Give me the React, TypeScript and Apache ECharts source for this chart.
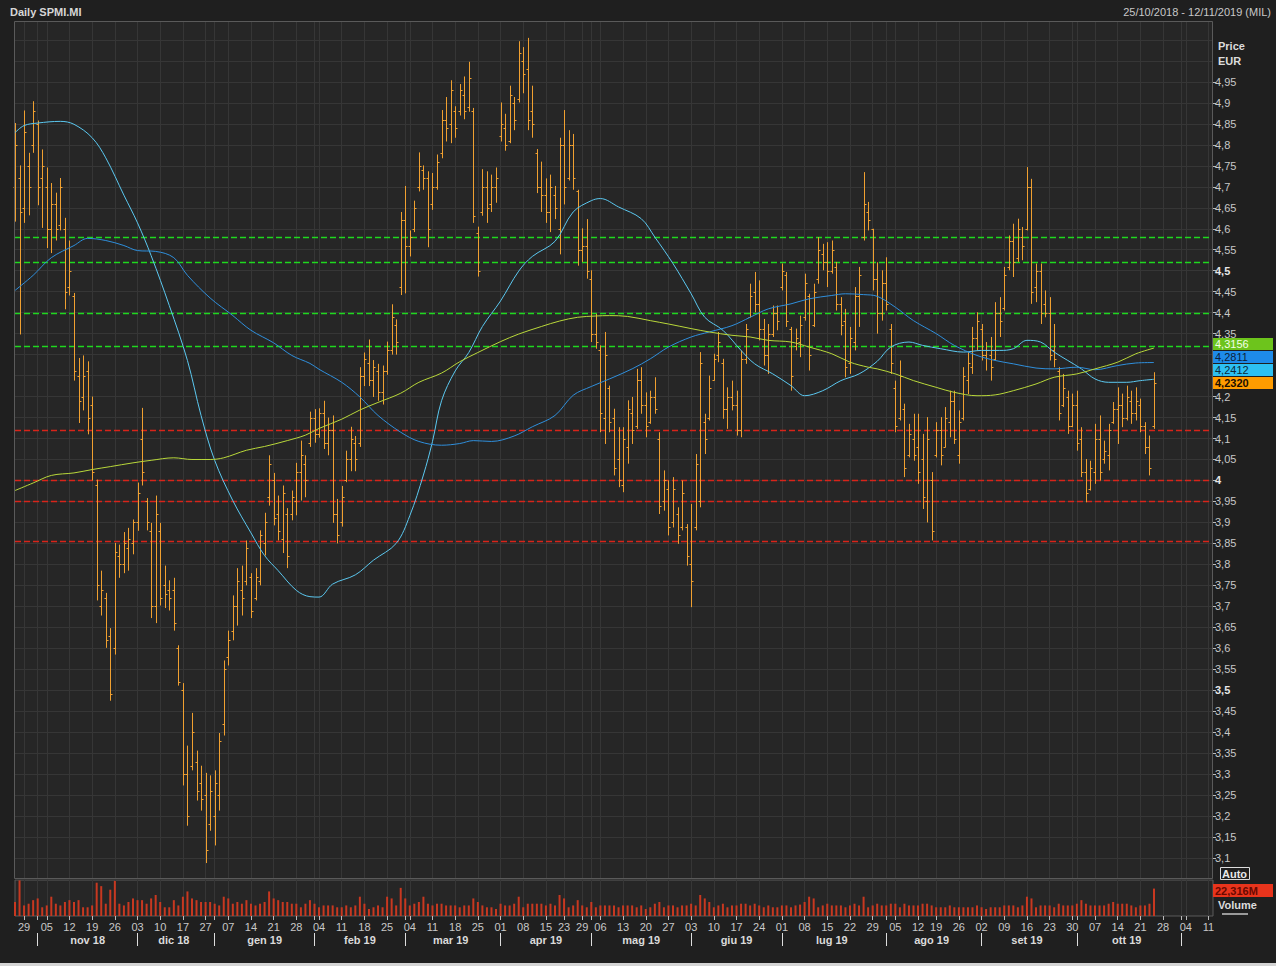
import React, { useEffect, useRef } from "react";
import * as echarts from "echarts";

// ---------- calendar (Borsa Italiana trading days) ----------
const FIRST_DAY = "2018-10-25";
const LAST_DAY = "2019-11-12";
const HOLIDAYS = ["2018-12-24", "2018-12-25", "2018-12-26", "2018-12-31", "2019-01-01", "2019-04-19", "2019-04-22", "2019-05-01", "2019-08-15"];
const MONTHS_IT = ["gen", "feb", "mar", "apr", "mag", "giu", "lug", "ago", "set", "ott", "nov", "dic"];

const TITLE = "Daily SPMI.MI";
const RANGE_TEXT = "25/10/2018 - 12/11/2019 (MIL)";

// ---------- daily OHLC (from 2018-10-25, one value per trading day) ----------
const open = [
  4.70, 4.72, 4.65, 4.75, 4.80, 4.85, 4.72, 4.70, 4.60, 4.66,
  4.61, 4.60, 4.46, 4.44, 4.25, 4.20, 4.26, 4.18, 3.99, 3.70,
  3.72, 3.63, 3.60, 3.82, 3.80, 3.84, 3.85, 3.90, 4.10, 3.95,
  3.88, 3.70, 3.88, 3.75, 3.74, 3.74, 3.60, 3.50, 3.30, 3.32,
  3.33, 3.28, 3.25, 3.18, 3.20, 3.25, 3.42, 3.58, 3.64, 3.70,
  3.74, 3.76, 3.77, 3.72, 3.76, 3.85, 3.96, 4.00, 3.92, 3.86,
  3.92, 3.92, 3.95, 4.02, 4.04, 4.09, 4.15, 4.11, 4.16, 4.09,
  4.12, 3.92, 3.90, 4.00, 4.05, 4.09, 4.09, 4.25, 4.28, 4.24,
  4.26, 4.21, 4.26, 4.31, 4.37, 4.46, 4.62, 4.56, 4.60, 4.70,
  4.74, 4.72, 4.66, 4.70, 4.78, 4.86, 4.85, 4.88, 4.88, 4.92,
  4.89, 4.88, 4.59, 4.64, 4.70, 4.66, 4.70, 4.82, 4.84, 4.81,
  4.90, 4.91, 5.00, 4.98, 4.88, 4.78, 4.70, 4.68, 4.64, 4.68,
  4.60, 4.80, 4.72, 4.80, 4.69, 4.55, 4.56, 4.48, 4.35, 4.31,
  4.15, 4.22, 4.15, 4.05, 3.99, 4.08, 4.16, 4.13, 4.24, 4.18,
  4.14, 4.20, 4.10, 3.95, 3.98, 3.90, 3.92, 3.89, 3.89, 3.80,
  3.89, 3.95, 4.14, 4.15, 4.24, 4.30, 4.28, 4.17, 4.20, 4.18,
  4.12, 4.29, 4.39, 4.45, 4.42, 4.36, 4.30, 4.35, 4.40, 4.46,
  4.49, 4.36, 4.32, 4.33, 4.39, 4.44, 4.37, 4.48, 4.54, 4.52,
  4.50, 4.51, 4.42, 4.38, 4.28, 4.33, 4.44, 4.58, 4.64, 4.60,
  4.48, 4.40, 4.47, 4.36, 4.22, 4.15, 4.17, 4.06, 4.10, 4.08,
  4.05, 3.95, 4.00, 4.06, 4.12, 4.08, 4.14, 4.19, 4.06, 4.15,
  4.24, 4.27, 4.34, 4.36, 4.30, 4.30, 4.29, 4.40, 4.41, 4.51,
  4.57, 4.53, 4.58, 4.60, 4.70, 4.46, 4.50, 4.42, 4.40, 4.31,
  4.26, 4.18, 4.20, 4.13, 4.18, 4.10, 4.02, 3.98, 4.02, 4.10,
  4.05, 4.06, 4.14, 4.17, 4.18, 4.15, 4.19, 4.16, 4.18, 4.13,
  4.08, 4.13,
];
const high = [
  4.852, 4.751, 4.882, 4.781, 4.904, 4.858, 4.789, 4.746, 4.709, 4.686,
  4.721, 4.626, 4.572, 4.447, 4.292, 4.298, 4.284, 4.200, 4.002, 3.785,
  3.732, 3.648, 3.851, 3.847, 3.877, 3.887, 3.907, 3.995, 4.173, 3.958,
  3.899, 3.964, 3.899, 3.797, 3.762, 3.768, 3.607, 3.517, 3.368, 3.446,
  3.356, 3.320, 3.303, 3.297, 3.309, 3.398, 3.571, 3.642, 3.726, 3.791,
  3.797, 3.857, 3.779, 3.791, 3.881, 3.923, 4.060, 4.018, 3.964, 3.988,
  3.934, 3.976, 4.042, 4.095, 4.060, 4.164, 4.170, 4.172, 4.190, 4.150,
  4.155, 3.956, 3.987, 4.071, 4.128, 4.106, 4.270, 4.305, 4.336, 4.287,
  4.278, 4.274, 4.331, 4.420, 4.384, 4.640, 4.702, 4.596, 4.667, 4.782,
  4.751, 4.737, 4.733, 4.777, 4.883, 4.914, 4.954, 4.892, 4.945, 4.963,
  4.998, 4.888, 4.605, 4.742, 4.737, 4.729, 4.746, 4.901, 4.874, 4.941,
  4.914, 5.047, 5.033, 5.055, 4.941, 4.790, 4.760, 4.720, 4.729, 4.702,
  4.817, 4.883, 4.835, 4.826, 4.693, 4.601, 4.623, 4.501, 4.397, 4.322,
  4.354, 4.226, 4.171, 4.127, 4.127, 4.191, 4.199, 4.266, 4.270, 4.210,
  4.214, 4.246, 4.115, 4.024, 4.000, 4.008, 3.936, 4.000, 3.896, 3.944,
  4.063, 4.306, 4.159, 4.250, 4.302, 4.354, 4.290, 4.222, 4.238, 4.214,
  4.310, 4.373, 4.469, 4.497, 4.477, 4.385, 4.373, 4.417, 4.417, 4.517,
  4.497, 4.366, 4.362, 4.393, 4.493, 4.445, 4.469, 4.580, 4.564, 4.568,
  4.572, 4.521, 4.437, 4.409, 4.366, 4.461, 4.509, 4.735, 4.664, 4.600,
  4.520, 4.501, 4.532, 4.373, 4.238, 4.286, 4.183, 4.135, 4.159, 4.159,
  4.111, 4.151, 4.020, 4.139, 4.151, 4.175, 4.214, 4.214, 4.167, 4.270,
  4.306, 4.366, 4.401, 4.373, 4.330, 4.342, 4.425, 4.437, 4.509, 4.584,
  4.612, 4.624, 4.604, 4.747, 4.719, 4.517, 4.517, 4.453, 4.437, 4.373,
  4.270, 4.254, 4.214, 4.207, 4.214, 4.127, 4.051, 4.047, 4.135, 4.155,
  4.095, 4.135, 4.187, 4.222, 4.207, 4.226, 4.214, 4.222, 4.195, 4.139,
  4.107, 4.258,
];
const low = [
  4.617, 4.348, 4.614, 4.632, 4.781, 4.656, 4.602, 4.554, 4.542, 4.572,
  4.596, 4.408, 4.441, 4.238, 4.137, 4.167, 4.110, 4.000, 3.714, 3.678,
  3.601, 3.475, 3.585, 3.768, 3.779, 3.785, 3.824, 3.880, 3.988, 3.881,
  3.672, 3.660, 3.702, 3.696, 3.690, 3.642, 3.511, 3.273, 3.177, 3.309,
  3.237, 3.213, 3.088, 3.165, 3.130, 3.213, 3.392, 3.559, 3.619, 3.654,
  3.678, 3.750, 3.672, 3.714, 3.750, 3.821, 3.940, 3.893, 3.857, 3.827,
  3.791, 3.905, 3.917, 3.952, 3.960, 4.080, 4.090, 4.102, 4.075, 4.060,
  3.899, 3.850, 3.890, 3.996, 4.022, 4.022, 4.080, 4.225, 4.225, 4.199,
  4.190, 4.181, 4.252, 4.300, 4.300, 4.442, 4.446, 4.534, 4.592, 4.689,
  4.693, 4.556, 4.645, 4.693, 4.768, 4.808, 4.804, 4.817, 4.870, 4.861,
  4.879, 4.614, 4.486, 4.631, 4.614, 4.640, 4.662, 4.808, 4.786, 4.804,
  4.835, 4.901, 4.923, 4.835, 4.817, 4.685, 4.640, 4.614, 4.592, 4.623,
  4.539, 4.658, 4.715, 4.693, 4.512, 4.521, 4.481, 4.330, 4.314, 4.115,
  4.087, 4.115, 4.012, 3.984, 3.972, 4.040, 4.087, 4.123, 4.159, 4.103,
  4.135, 4.159, 3.920, 3.928, 3.869, 3.888, 3.849, 3.881, 3.797, 3.698,
  3.881, 3.936, 4.063, 4.143, 4.238, 4.282, 4.147, 4.123, 4.167, 4.107,
  4.103, 4.278, 4.389, 4.401, 4.334, 4.274, 4.254, 4.342, 4.358, 4.453,
  4.366, 4.214, 4.310, 4.294, 4.381, 4.262, 4.366, 4.469, 4.501, 4.461,
  4.493, 4.405, 4.346, 4.246, 4.254, 4.310, 4.366, 4.572, 4.596, 4.453,
  4.350, 4.381, 4.405, 4.254, 4.115, 4.143, 4.008, 4.055, 4.047, 3.992,
  3.932, 3.900, 3.857, 4.055, 4.036, 4.079, 4.103, 4.087, 4.040, 4.143,
  4.206, 4.254, 4.310, 4.286, 4.262, 4.238, 4.286, 4.342, 4.405, 4.501,
  4.485, 4.521, 4.525, 4.596, 4.421, 4.425, 4.373, 4.389, 4.286, 4.270,
  4.143, 4.175, 4.111, 4.127, 4.071, 4.008, 3.948, 3.976, 3.992, 4.000,
  4.040, 4.024, 4.135, 4.087, 4.127, 4.143, 4.135, 4.143, 4.115, 4.063,
  4.012, 4.123,
];
const close = [
  4.80, 4.64, 4.83, 4.70, 4.88, 4.70, 4.75, 4.60, 4.66, 4.60,
  4.70, 4.45, 4.50, 4.26, 4.19, 4.25, 4.15, 4.02, 3.75, 3.74,
  3.62, 3.49, 3.83, 3.80, 3.85, 3.86, 3.90, 3.97, 4.02, 3.90,
  3.70, 3.92, 3.72, 3.73, 3.72, 3.66, 3.52, 3.30, 3.20, 3.40,
  3.26, 3.24, 3.12, 3.26, 3.28, 3.38, 3.55, 3.62, 3.70, 3.76,
  3.72, 3.84, 3.69, 3.77, 3.87, 3.90, 4.04, 3.91, 3.88, 3.97,
  3.82, 3.96, 4.02, 4.06, 4.00, 4.15, 4.11, 4.16, 4.09, 4.12,
  3.92, 3.87, 3.96, 4.05, 4.10, 4.05, 4.25, 4.29, 4.24, 4.27,
  4.21, 4.26, 4.31, 4.39, 4.33, 4.62, 4.56, 4.58, 4.65, 4.75,
  4.72, 4.60, 4.70, 4.76, 4.86, 4.84, 4.93, 4.84, 4.93, 4.88,
  4.96, 4.63, 4.50, 4.70, 4.65, 4.70, 4.72, 4.85, 4.80, 4.92,
  4.86, 5.02, 4.97, 4.86, 4.85, 4.70, 4.68, 4.64, 4.70, 4.65,
  4.80, 4.70, 4.80, 4.72, 4.55, 4.56, 4.50, 4.35, 4.33, 4.16,
  4.30, 4.14, 4.03, 4.00, 4.10, 4.17, 4.12, 4.24, 4.18, 4.13,
  4.20, 4.17, 3.94, 4.00, 3.89, 3.98, 3.87, 3.97, 3.82, 3.76,
  4.04, 4.28, 4.10, 4.22, 4.29, 4.33, 4.17, 4.20, 4.18, 4.12,
  4.29, 4.36, 4.44, 4.42, 4.36, 4.30, 4.35, 4.40, 4.38, 4.50,
  4.38, 4.25, 4.34, 4.37, 4.47, 4.30, 4.45, 4.55, 4.52, 4.50,
  4.55, 4.42, 4.37, 4.27, 4.34, 4.44, 4.49, 4.66, 4.62, 4.48,
  4.40, 4.47, 4.42, 4.28, 4.13, 4.25, 4.03, 4.11, 4.06, 4.02,
  3.96, 4.10, 3.88, 4.12, 4.06, 4.15, 4.19, 4.10, 4.14, 4.25,
  4.28, 4.34, 4.38, 4.30, 4.31, 4.27, 4.40, 4.38, 4.49, 4.57,
  4.52, 4.60, 4.56, 4.70, 4.45, 4.50, 4.40, 4.40, 4.30, 4.29,
  4.16, 4.22, 4.13, 4.18, 4.09, 4.02, 3.97, 4.03, 4.10, 4.02,
  4.07, 4.12, 4.17, 4.18, 4.15, 4.20, 4.16, 4.19, 4.13, 4.08,
  4.03, 4.232,
];
// volume, millions of shares
const volume = [
  11.4, 29.0, 8.6, 10.0, 12.9, 14.3, 7.1, 8.6, 15.7, 10.0,
  8.6, 11.4, 12.9, 11.4, 12.9, 7.1, 7.1, 8.6, 27.1, 24.3,
  10.0, 21.4, 28.6, 10.0, 8.6, 11.4, 14.3, 12.9, 12.9, 10.0,
  14.3, 17.1, 11.4, 7.1, 7.1, 12.9, 8.6, 15.7, 20.0, 14.3,
  12.9, 11.4, 11.4, 11.4, 10.0, 8.6, 15.7, 14.3, 10.0, 11.4,
  10.0, 12.9, 10.0, 8.6, 10.0, 11.4, 20.0, 14.3, 12.9, 11.4,
  11.4, 10.0, 10.0, 7.1, 10.0, 12.9, 10.0, 7.1, 8.6, 8.6,
  8.6, 7.1, 7.1, 8.6, 7.1, 8.6, 15.7, 10.0, 5.7, 7.1,
  8.6, 7.1, 15.7, 14.3, 8.6, 22.9, 14.3, 8.6, 10.0, 11.4,
  15.7, 10.0, 8.6, 10.0, 10.0, 8.6, 8.6, 8.6, 7.1, 8.6,
  8.6, 14.3, 11.4, 8.6, 7.1, 7.1, 5.7, 10.0, 8.6, 8.6,
  10.0, 15.7, 7.1, 10.0, 10.0, 10.0, 10.0, 8.6, 10.0, 8.6,
  17.1, 14.3, 7.1, 8.6, 12.9, 8.6, 7.1, 11.4, 7.1, 8.6,
  8.6, 8.6, 8.6, 7.1, 8.6, 8.6, 8.6, 7.1, 8.6, 5.7,
  7.1, 10.0, 11.4, 7.1, 8.6, 8.6, 7.1, 8.6, 8.6, 10.0,
  8.6, 17.1, 14.3, 11.4, 7.1, 8.6, 10.0, 7.1, 8.6, 8.6,
  10.0, 10.0, 8.6, 10.0, 8.6, 7.1, 8.6, 7.1, 7.1, 8.6,
  8.6, 7.1, 8.6, 9.3, 11.4, 15.7, 14.3, 7.1, 8.6, 10.0,
  8.6, 8.6, 8.6, 7.1, 8.6, 10.0, 8.6, 15.7, 7.1, 8.6,
  10.0, 8.6, 8.6, 10.0, 10.0, 7.1, 10.0, 8.6, 8.6, 8.6,
  10.0, 10.0, 8.6, 7.1, 7.1, 7.1, 8.6, 7.1, 7.1, 7.1,
  7.1, 7.1, 8.6, 7.1, 5.7, 7.1, 7.1, 7.1, 8.6, 8.6,
  8.6, 7.1, 8.6, 15.7, 14.3, 7.1, 8.6, 8.6, 8.6, 7.1,
  10.0, 8.6, 8.6, 8.6, 10.0, 12.9, 10.0, 8.6, 8.6, 8.6,
  8.6, 10.0, 11.4, 10.0, 10.0, 10.0, 8.6, 7.1, 8.6, 8.6,
  10.0, 22.316,
];

// ---------- moving averages, read at sample dates ----------
const maFast: [string, number][] = [
  ["2018-10-25", 4.829], ["2018-10-29", 4.846], ["2018-11-01", 4.852], ["2018-11-08", 4.856], ["2018-11-13", 4.849],
  ["2018-11-19", 4.817], ["2018-11-22", 4.769], ["2018-11-28", 4.680], ["2018-12-03", 4.614], ["2018-12-06", 4.536],
  ["2018-12-12", 4.417], ["2018-12-18", 4.286], ["2018-12-21", 4.155], ["2019-01-02", 4.048], ["2019-01-08", 3.952],
  ["2019-01-14", 3.875], ["2019-01-17", 3.821], ["2019-01-22", 3.785], ["2019-01-28", 3.738], ["2019-01-31", 3.723],
  ["2019-02-04", 3.722], ["2019-02-07", 3.753], ["2019-02-14", 3.775], ["2019-02-20", 3.810], ["2019-02-27", 3.850],
  ["2019-03-04", 3.916], ["2019-03-07", 4.013], ["2019-03-11", 4.093], ["2019-03-13", 4.190], ["2019-03-18", 4.261],
  ["2019-03-21", 4.305], ["2019-03-26", 4.367], ["2019-04-01", 4.428], ["2019-04-05", 4.499], ["2019-04-10", 4.534],
  ["2019-04-17", 4.570], ["2019-04-25", 4.640], ["2019-05-02", 4.667], ["2019-05-06", 4.672], ["2019-05-10", 4.652],
  ["2019-05-17", 4.624], ["2019-05-22", 4.580], ["2019-05-28", 4.517], ["2019-06-03", 4.445], ["2019-06-06", 4.389],
  ["2019-06-12", 4.358], ["2019-06-18", 4.310], ["2019-06-21", 4.278], ["2019-06-27", 4.254], ["2019-07-03", 4.226],
  ["2019-07-08", 4.202], ["2019-07-12", 4.214], ["2019-07-18", 4.238], ["2019-07-24", 4.254], ["2019-07-30", 4.284],
  ["2019-08-02", 4.318], ["2019-08-08", 4.330], ["2019-08-13", 4.322], ["2019-08-20", 4.314], ["2019-08-27", 4.306],
  ["2019-09-02", 4.310], ["2019-09-06", 4.310], ["2019-09-11", 4.314], ["2019-09-16", 4.334], ["2019-09-19", 4.330],
  ["2019-09-24", 4.306], ["2019-09-27", 4.286], ["2019-10-02", 4.266], ["2019-10-07", 4.242], ["2019-10-10", 4.234],
  ["2019-10-16", 4.234], ["2019-10-21", 4.238], ["2019-10-24", 4.2412],
];
const maMid: [string, number][] = [
  ["2018-10-25", 4.453], ["2018-10-31", 4.489], ["2018-11-06", 4.531], ["2018-11-13", 4.560], ["2018-11-16", 4.577],
  ["2018-11-22", 4.572], ["2018-11-28", 4.560], ["2018-12-03", 4.548], ["2018-12-07", 4.546], ["2018-12-13", 4.531],
  ["2018-12-18", 4.489], ["2018-12-28", 4.435], ["2019-01-08", 4.393], ["2019-01-14", 4.358], ["2019-01-21", 4.328],
  ["2019-01-25", 4.298], ["2019-01-31", 4.279], ["2019-02-04", 4.265], ["2019-02-11", 4.234], ["2019-02-15", 4.199],
  ["2019-02-21", 4.155], ["2019-02-28", 4.115], ["2019-03-06", 4.093], ["2019-03-13", 4.084], ["2019-03-19", 4.088],
  ["2019-03-22", 4.095], ["2019-03-28", 4.093], ["2019-04-04", 4.106], ["2019-04-10", 4.128], ["2019-04-17", 4.155],
  ["2019-04-25", 4.203], ["2019-05-02", 4.224], ["2019-05-08", 4.242], ["2019-05-15", 4.266], ["2019-05-21", 4.290],
  ["2019-05-27", 4.318], ["2019-06-03", 4.342], ["2019-06-07", 4.354], ["2019-06-14", 4.369], ["2019-06-20", 4.389],
  ["2019-06-26", 4.409], ["2019-07-03", 4.421], ["2019-07-09", 4.433], ["2019-07-16", 4.441], ["2019-07-19", 4.445],
  ["2019-07-25", 4.443], ["2019-07-30", 4.439], ["2019-08-05", 4.413], ["2019-08-09", 4.381], ["2019-08-19", 4.350],
  ["2019-08-23", 4.322], ["2019-08-30", 4.298], ["2019-09-05", 4.286], ["2019-09-11", 4.278], ["2019-09-18", 4.268],
  ["2019-09-24", 4.266], ["2019-10-01", 4.270], ["2019-10-07", 4.264], ["2019-10-14", 4.274], ["2019-10-18", 4.280],
  ["2019-10-24", 4.2811],
];
const maSlow: [string, number][] = [
  ["2018-10-25", 3.976], ["2018-10-31", 3.994], ["2018-11-06", 4.012], ["2018-11-13", 4.018], ["2018-11-19", 4.026],
  ["2018-11-23", 4.033], ["2018-11-30", 4.042], ["2018-12-06", 4.048], ["2018-12-13", 4.054], ["2018-12-19", 4.050],
  ["2018-12-28", 4.050], ["2019-01-04", 4.054], ["2019-01-11", 4.072], ["2019-01-17", 4.081], ["2019-01-24", 4.095],
  ["2019-01-30", 4.108], ["2019-02-04", 4.124], ["2019-02-11", 4.146], ["2019-02-15", 4.168], ["2019-02-21", 4.186],
  ["2019-02-28", 4.208], ["2019-03-06", 4.234], ["2019-03-13", 4.256], ["2019-03-19", 4.283], ["2019-03-25", 4.305],
  ["2019-04-01", 4.331], ["2019-04-05", 4.349], ["2019-04-12", 4.367], ["2019-04-18", 4.380], ["2019-04-26", 4.389],
  ["2019-05-03", 4.392], ["2019-05-08", 4.393], ["2019-05-14", 4.391], ["2019-05-21", 4.381], ["2019-05-27", 4.373],
  ["2019-06-03", 4.362], ["2019-06-07", 4.354], ["2019-06-14", 4.346], ["2019-06-20", 4.342], ["2019-06-26", 4.334],
  ["2019-07-03", 4.330], ["2019-07-09", 4.318], ["2019-07-16", 4.302], ["2019-07-22", 4.282], ["2019-07-26", 4.270],
  ["2019-07-30", 4.266], ["2019-08-05", 4.254], ["2019-08-09", 4.238], ["2019-08-19", 4.222], ["2019-08-23", 4.210],
  ["2019-08-30", 4.202], ["2019-09-05", 4.204], ["2019-09-11", 4.214], ["2019-09-18", 4.230], ["2019-09-24", 4.246],
  ["2019-10-01", 4.254], ["2019-10-07", 4.266], ["2019-10-14", 4.282], ["2019-10-18", 4.302], ["2019-10-24", 4.3156],
];

// horizontal levels (dashed)
const resistanceLevels = [4.58, 4.52, 4.40, 4.32];
const supportLevels = [4.12, 4.0, 3.95, 3.855];

// ---------- styling ----------
const FONT = '"Liberation Sans", Arial, sans-serif';
const PAGE_BG = "#1f1f1f";
const PLOT_BG = "#262626";
const GRID_COLOR = "#363636";
const TEXT = "#c8c8c8";
const BAR_COLOR = "#F0A030";
const FAST_COLOR = "#5BC8F0";
const MID_COLOR = "#2F8FDC";
const SLOW_COLOR = "#B9D83A";
const VOL_COLOR = "#C83820";
const RES_COLOR = "#1FD81F";
const SUP_COLOR = "#D8241A";

function buildTradingDays(): string[] {
  const out: string[] = [];
  const d = new Date(FIRST_DAY + "T00:00:00Z");
  const end = new Date(LAST_DAY + "T00:00:00Z");
  while (d.getTime() <= end.getTime()) {
    const dow = d.getUTCDay();
    const s = d.toISOString().slice(0, 10);
    if (dow !== 0 && dow !== 6 && HOLIDAYS.indexOf(s) < 0) out.push(s);
    d.setUTCDate(d.getUTCDate() + 1);
  }
  return out;
}

function fmtPrice(v: number): string {
  const r = Math.round(v * 10000) / 10000;
  const s = r.toFixed(2).replace(/0+$/, "").replace(/\.$/, "");
  return s.replace(".", ",");
}

function fmt4(v: number): string {
  return v.toFixed(4).replace(".", ",");
}

function levelSeries(levels: number[], color: string) {
  return {
    type: "custom",
    xAxisIndex: 0,
    yAxisIndex: 0,
    silent: true,
    z: 2,
    encode: { x: 0, y: 1 },
    data: levels.map((v) => [0, v]),
    renderItem: (params: any, api: any) => {
      const cs = params.coordSys;
      const y = Math.round(api.coord([0, api.value(1)])[1]) + 0.5;
      return {
        type: "line",
        shape: { x1: cs.x, y1: y, x2: cs.x + cs.width, y2: y },
        style: { stroke: color, lineWidth: 1.5, lineDash: [6, 3] },
      };
    },
  };
}

export default function App() {
  const ref = useRef<HTMLDivElement>(null);

  useEffect(() => {
    const el = ref.current;
    if (!el) return;
    const chart = echarts.init(el, null, { renderer: "svg" });

    const days = buildTradingDays();
    const dayIndex = new Map<string, number>();
    days.forEach((d, i) => dayIndex.set(d, i));
    const dt = days.map((s) => new Date(s + "T00:00:00Z"));
    const isWeekStart = days.map(
      (_, i) => i > 0 && (dt[i].getUTCDay() < dt[i - 1].getUTCDay() || dt[i].getTime() - dt[i - 1].getTime() >= 7 * 864e5)
    );
    const isMonthStart = days.map((_, i) => i > 0 && dt[i].getUTCMonth() !== dt[i - 1].getUTCMonth());
    const showDay: boolean[] = days.map(() => false);
    let lastLab = -10;
    isWeekStart.forEach((w, i) => {
      if (w && i - lastLab >= 3) {
        showDay[i] = true;
        lastLab = i;
      }
    });
    const monthStarts: number[] = [];
    isMonthStart.forEach((m, i) => m && monthStarts.push(i));
    const monthLabelAt = new Map<number, string>();
    for (let k = 0; k < monthStarts.length - 1; k++) {
      const a = monthStarts[k];
      const b = monthStarts[k + 1];
      const mid = Math.floor((a + b) / 2);
      monthLabelAt.set(mid, MONTHS_IT[dt[a].getUTCMonth()] + " " + String(dt[a].getUTCFullYear()).slice(2));
    }
    const isGridLine = (i: number) => isWeekStart[i] || isMonthStart[i];

    const ohlc = open.map((o, i) => [i, o, close[i], low[i], high[i]]);
    const toLine = (arr: [string, number][]) => arr.map(([d, v]) => [dayIndex.get(d) as number, v]);

    const splitX = { show: true, interval: (i: number) => isGridLine(i), lineStyle: { color: GRID_COLOR, width: 1 } };

    let hideFrom = Infinity;
    let hideTo = -Infinity;
    const priceLabelFormatter = (v: number) => {
      const r = Math.round(v * 100) / 100;
      const py = chart.convertToPixel({ yAxisIndex: 0 }, r) as number;
      if (typeof py === "number" && py + 4 > hideFrom && py - 4 < hideTo) return "";
      const half = Math.abs(r * 2 - Math.round(r * 2)) < 1e-6;
      return half ? `{b|${fmtPrice(r)}}` : `{n|${fmtPrice(r)}}`;
    };

    const option: any = {
      animation: false,
      backgroundColor: PAGE_BG,
      textStyle: { fontFamily: FONT },
      grid: [
        { left: 15, top: 19, width: 1198, height: 860, show: true, backgroundColor: PLOT_BG, borderWidth: 0 },
        { left: 15, top: 880, width: 1198, height: 36, show: true, backgroundColor: PLOT_BG, borderColor: "#5a5a5a", borderWidth: 1 },
        { left: 1212, top: 81.93, width: 1, height: 776.09, show: false },
      ],
      xAxis: [
        {
          gridIndex: 0, type: "category", data: days, boundaryGap: false,
          axisLine: { show: false }, axisTick: { show: false }, axisLabel: { show: false }, splitLine: splitX,
        },
        {
          gridIndex: 1, type: "category", data: days, boundaryGap: false,
          axisLine: { show: false },
          axisTick: { show: true, length: 4, interval: (i: number) => showDay[i] || isMonthStart[i], lineStyle: { color: "#bbbbbb" } },
          axisLabel: {
            show: true, interval: (i: number) => showDay[i], margin: 5,
            formatter: (v: string) => v.slice(8, 10), color: TEXT, fontSize: 11, fontFamily: FONT,
          },
          splitLine: splitX,
        },
        {
          gridIndex: 1, type: "category", data: days, boundaryGap: false, position: "bottom", offset: 17,
          axisLine: { show: false },
          axisTick: { show: true, length: 13, interval: (i: number) => isMonthStart[i], lineStyle: { color: "#dddddd" } },
          axisLabel: {
            show: true, interval: (i: number) => monthLabelAt.has(i), margin: 1,
            formatter: (_v: string, i: number) => monthLabelAt.get(i) || "",
            color: "#dadada", fontSize: 11, fontWeight: "bold", fontFamily: FONT,
          },
          splitLine: { show: false },
        },
        { gridIndex: 2, type: "value", show: false, min: 0, max: 1 },
      ],
      yAxis: [
        {
          gridIndex: 0, type: "value", position: "right", min: 3.05, max: 5.1, interval: 0.05,
          axisLine: { show: false }, axisTick: { show: false }, axisLabel: { show: false },
          splitLine: { show: true, lineStyle: { color: GRID_COLOR, width: 1 } },
        },
        { gridIndex: 1, type: "value", min: 0, max: 29.3, show: false },
        {
          gridIndex: 2, type: "value", position: "right", min: 3.1, max: 4.95, interval: 0.05,
          axisLine: { show: false },
          axisTick: { show: true, length: 4, lineStyle: { color: "#bbbbbb" } },
          splitLine: { show: false },
          axisLabel: {
            margin: 2, fontFamily: FONT,
            formatter: priceLabelFormatter,
            rich: {
              b: { color: "#e6e6e6", fontSize: 11, fontWeight: "bold", fontFamily: FONT },
              n: { color: TEXT, fontSize: 11, fontFamily: FONT },
            },
          },
        },
      ],
      series: [
        levelSeries(resistanceLevels, RES_COLOR),
        levelSeries(supportLevels, SUP_COLOR),
        {
          type: "custom", name: "SPMI.MI", xAxisIndex: 0, yAxisIndex: 0,
          encode: { x: 0, y: [1, 2, 3, 4] }, data: ohlc, z: 3,
          renderItem: (_p: any, api: any) => {
            const i = api.value(0);
            const pO = api.coord([i, api.value(1)]);
            const pC = api.coord([i, api.value(2)]);
            const pL = api.coord([i, api.value(3)]);
            const pH = api.coord([i, api.value(4)]);
            const x = Math.round(pH[0]) + 0.5;
            const st = { stroke: BAR_COLOR, lineWidth: 1 };
            return {
              type: "group",
              children: [
                { type: "line", shape: { x1: x, y1: pH[1], x2: x, y2: pL[1] }, style: st },
                { type: "line", shape: { x1: x - 2, y1: Math.round(pO[1]) + 0.5, x2: x, y2: Math.round(pO[1]) + 0.5 }, style: st },
                { type: "line", shape: { x1: x, y1: Math.round(pC[1]) + 0.5, x2: x + 2, y2: Math.round(pC[1]) + 0.5 }, style: st },
              ],
            };
          },
        },
        {
          type: "line", name: "fast", xAxisIndex: 0, yAxisIndex: 0, data: toLine(maFast), smooth: 0.35,
          showSymbol: false, symbol: "none", lineStyle: { color: FAST_COLOR, width: 1 }, z: 4,
        },
        {
          type: "line", name: "mid", xAxisIndex: 0, yAxisIndex: 0, data: toLine(maMid), smooth: 0.35,
          showSymbol: false, symbol: "none", lineStyle: { color: MID_COLOR, width: 1 }, z: 4,
        },
        {
          type: "line", name: "slow", xAxisIndex: 0, yAxisIndex: 0, data: toLine(maSlow), smooth: 0.35,
          showSymbol: false, symbol: "none", lineStyle: { color: SLOW_COLOR, width: 1 }, z: 4,
        },
        {
          type: "bar", name: "Volume", xAxisIndex: 1, yAxisIndex: 1, data: volume, barWidth: 2,
          itemStyle: { color: VOL_COLOR },
        },
      ],
    };
    chart.setOption(option);

    // last-value tags on the right, stacked upward from the lowest one
    const tags = [
      { v: maSlow[maSlow.length - 1][1], bg: "#6DC41C", fg: "#F2FFE6", bold: false },
      { v: maMid[maMid.length - 1][1], bg: "#1E8BEA", fg: "#0B1E3A", bold: false },
      { v: maFast[maFast.length - 1][1], bg: "#2DC0F2", fg: "#0B2A3A", bold: false },
      { v: close[close.length - 1], bg: "#FF9C00", fg: "#1A0F00", bold: true },
    ];
    const withY = tags.map((t) => ({ ...t, y: chart.convertToPixel({ yAxisIndex: 0 }, t.v) as number }));
    withY.sort((a, b) => b.y - a.y);
    withY[0].y = Math.round(withY[0].y);
    for (let k = 1; k < withY.length; k++) withY[k].y = Math.round(Math.min(withY[k].y, withY[k - 1].y - 13));
    hideFrom = Math.min(...withY.map((t) => t.y)) - 6;
    hideTo = Math.max(...withY.map((t) => t.y)) + 6;

    const txt = (x: number, y: number, text: string, opts: any = {}) => ({
      type: "text", x, y, z: 80,
      style: {
        text, fill: opts.fill || TEXT, font: `${opts.weight || "normal"} ${opts.size || 11}px ${FONT}`,
        align: opts.align || "left", verticalAlign: "middle",
      },
    });

    const graphics: any[] = [
      { type: "rect", z: 50, shape: { x: 0, y: 0, width: 1276, height: 21 }, style: { fill: PAGE_BG } },
      { type: "rect", z: 60, shape: { x: 14.5, y: 21.5, width: 1198, height: 857 }, style: { fill: "none", stroke: "#5a5a5a", lineWidth: 1 } },
      txt(10, 12, TITLE, { weight: "bold", fill: "#d6d6d6" }),
      txt(1271, 12, RANGE_TEXT, { align: "right", fill: "#c8c8c8" }),
      txt(1218, 46, "Price", { weight: "bold", fill: "#dcdcdc" }),
      txt(1218, 61, "EUR", { weight: "bold", fill: "#dcdcdc" }),
      { type: "rect", z: 70, shape: { x: 1220.5, y: 867.5, width: 29, height: 12 }, style: { fill: PAGE_BG, stroke: "#dddddd", lineWidth: 1 } },
      txt(1222, 874, "Auto", { weight: "bold", fill: "#e8e8e8" }),
      { type: "rect", z: 70, shape: { x: 1213, y: 884, width: 60, height: 13 }, style: { fill: "#E8341C" } },
      txt(1215, 891, volume[volume.length - 1].toFixed(3).replace(".", ",") + "M", { weight: "bold", fill: "#6A0800" }),
      txt(1218, 905, "Volume", { weight: "bold", fill: "#dcdcdc" }),
      { type: "rect", z: 70, shape: { x: 1222, y: 913, width: 26, height: 2 }, style: { fill: "#9a9a9a" } },
      { type: "rect", z: 70, shape: { x: 0, y: 963, width: 1276, height: 3 }, style: { fill: "#d4d4d4" } },
    ];
    withY.forEach((t) => {
      graphics.push({ type: "rect", z: 75, shape: { x: 1213, y: t.y - 6, width: 60, height: 12 }, style: { fill: t.bg } });
      graphics.push(txt(1215, t.y, fmt4(t.v), { fill: t.fg, weight: t.bold ? "bold" : "normal" }));
    });
    chart.setOption({
      graphic: graphics,
      yAxis: [{}, {}, { axisLabel: { formatter: priceLabelFormatter } }],
    });

    return () => chart.dispose();
  }, []);

  return (
    <div
      ref={ref}
      style={{ position: "absolute", left: 0, top: 0, width: 1276, height: 966, background: PAGE_BG }}
    />
  );
}
